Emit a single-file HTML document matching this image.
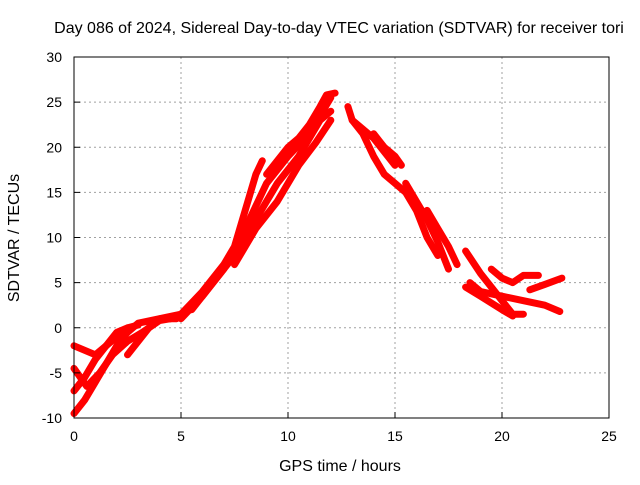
<!DOCTYPE html>
<html><head><meta charset="utf-8"><style>
body{margin:0;background:#fff}
svg text{font-family:"Liberation Sans",sans-serif;font-size:14px;fill:#000}
svg text.big{font-size:16px}
</style></head><body>
<svg id="chart" width="640" height="480" xmlns="http://www.w3.org/2000/svg">
<rect width="640" height="480" fill="#fff"/>
<text class="big" x="339" y="33" text-anchor="middle">Day 086 of 2024, Sidereal Day-to-day VTEC variation (SDTVAR) for receiver tori</text>
<g id="grid"></g>
<g id="series"></g>
<g id="axes"></g>
<text class="big" x="340" y="471" text-anchor="middle">GPS time / hours</text>
<text class="big" transform="translate(19,238) rotate(-90)" text-anchor="middle">SDTVAR / TECUs</text>
</svg>
<script>
const xTicks=[0,5,10,15,20,25];
const yTicks=[-10,-5,0,5,10,15,20,25,30];
const t1x=[0,0.5,1,1.5,2,2.5,3,4,5];const t1y=[-9.5,-8,-6,-4,-2,-0.5,0.5,1,1.5];
const t2x=[0,0.5,1,1.5,2,2.5,3];const t2y=[-7,-5.5,-3.5,-2,-0.5,0,0.3];
const t3x=[0,0.5,1,1.5,2,2.5];const t3y=[-2,-2.5,-3,-2,-1,-0.5];
const t4x=[0,0.6,1.2,1.8,2.5,3.2,4,5];const t4y=[-4.5,-6.5,-5,-3,-1.5,-0.5,0.8,1.2];
const t5x=[2.5,3,3.5,4,4.8];const t5y=[-3,-1.5,0,1,1];
const a1x=[4.5,5,6,7,7.5,8,8.5,8.8];const a1y=[1,1.5,4,7,9,13,17,18.5];
const a2x=[5,6,7,8,9,10,11,12];const a2y=[1,3.5,6.5,11,16,19,21.5,25.5];
const a3x=[5.5,6.5,7.5,8.5,9.5,10.5,11.5,12];const a3y=[2,5,8,12,16,19,23,24];
const a4x=[7.5,8.5,9.5,10.5,11.3,12];const a4y=[7,11,14,18,20.5,23];
const a5x=[9,10,10.5,11,11.5,11.8,12.2];const a5y=[17,20,21,22.5,24.5,25.8,26];
const d1x=[12.8,13,13.5,14,14.5,15];const d1y=[24.5,23,22,21,19.5,18];
const d2x=[13,13.5,14,14.5,15,15.5,16,16.5,17];const d2y=[23,21.5,19,17,16,15,13,10,8];
const d3x=[14,14.5,15,15.3];const d3y=[21.5,20,19,18];
const d4x=[15.5,16,16.5,17,17.5];const d4y=[16,14,12,9.5,6.5];
const d5x=[16.5,17,17.5,17.9];const d5y=[13,11,9,7];
const e1x=[18.3,19,19.5,20,20.5,21];const e1y=[8.5,6,4.5,3,1.5,1.5];
const e2x=[18.3,19,20,20.5];const e2y=[4.5,3.5,2,1.3];
const e3x=[18.5,19,20,21,22,22.7];const e3y=[5,4,3.5,3,2.5,1.8];
const e4x=[19.5,20,20.5,21,21.7];const e4y=[6.5,5.5,5,5.8,5.8];
const e5x=[21.3,22,22.8];const e5y=[4.2,4.8,5.5];
const SX=[t1x,t2x,t3x,t4x,t5x,a1x,a2x,a3x,a4x,a5x,d1x,d2x,d3x,d4x,d5x,e1x,e2x,e3x,e4x,e5x];
const SY=[t1y,t2y,t3y,t4y,t5y,a1y,a2y,a3y,a4y,a5y,d1y,d2y,d3y,d4y,d5y,e1y,e2y,e3y,e4y,e5y];
const L=74,R=609,T=57,B=418;
const xs=v=>L+(v-0)/25*(R-L);
const ys=v=>B-(v+10)/40*(B-T);
const NS="http://www.w3.org/2000/svg";
const mk=(t,a,p)=>{const e=document.createElementNS(NS,t);for(const k in a)e.setAttribute(k,a[k]);p.appendChild(e);return e;};
const grid=document.getElementById('grid'),axes=document.getElementById('axes'),ser=document.getElementById('series');
xTicks.forEach(v=>{const x=xs(v);
 if(v>0&&v<25){const g=mk('line',{x1:x,x2:x,y1:T,y2:B,stroke:'#a0a0a0','stroke-dasharray':'2,3'},grid);}
 const tk=mk('line',{x1:x,x2:x,y1:B,y2:B-6,stroke:'#000'},axes);
 const t=mk('text',{x:x,y:B+23,'text-anchor':'middle'},axes);t.textContent=v;
 });
yTicks.forEach(v=>{const y=ys(v);
 if(v>-10&&v<30){const g=mk('line',{x1:L,x2:R,y1:y,y2:y,stroke:'#a0a0a0','stroke-dasharray':'2,3'},grid);}
 const tk=mk('line',{x1:L,x2:L+6,y1:y,y2:y,stroke:'#000'},axes);
 const t=mk('text',{x:L-12,y:y+5,'text-anchor':'end'},axes);t.textContent=v;
 });
const fr=mk('rect',{x:L,y:T,width:R-L,height:B-T,fill:'none',stroke:'#000'},axes);

SX.forEach((xa,i)=>{const ya=SY[i];
 const pts=xa.map((x,j)=>xs(x).toFixed(1)+','+ys(ya[j]).toFixed(1)).join(' ');
 const p=mk('polyline',{points:pts,fill:'none',stroke:'#ff0000','stroke-width':7,'stroke-linejoin':'round','stroke-linecap':'round'},ser);
 
 });
</script>
</body></html>
